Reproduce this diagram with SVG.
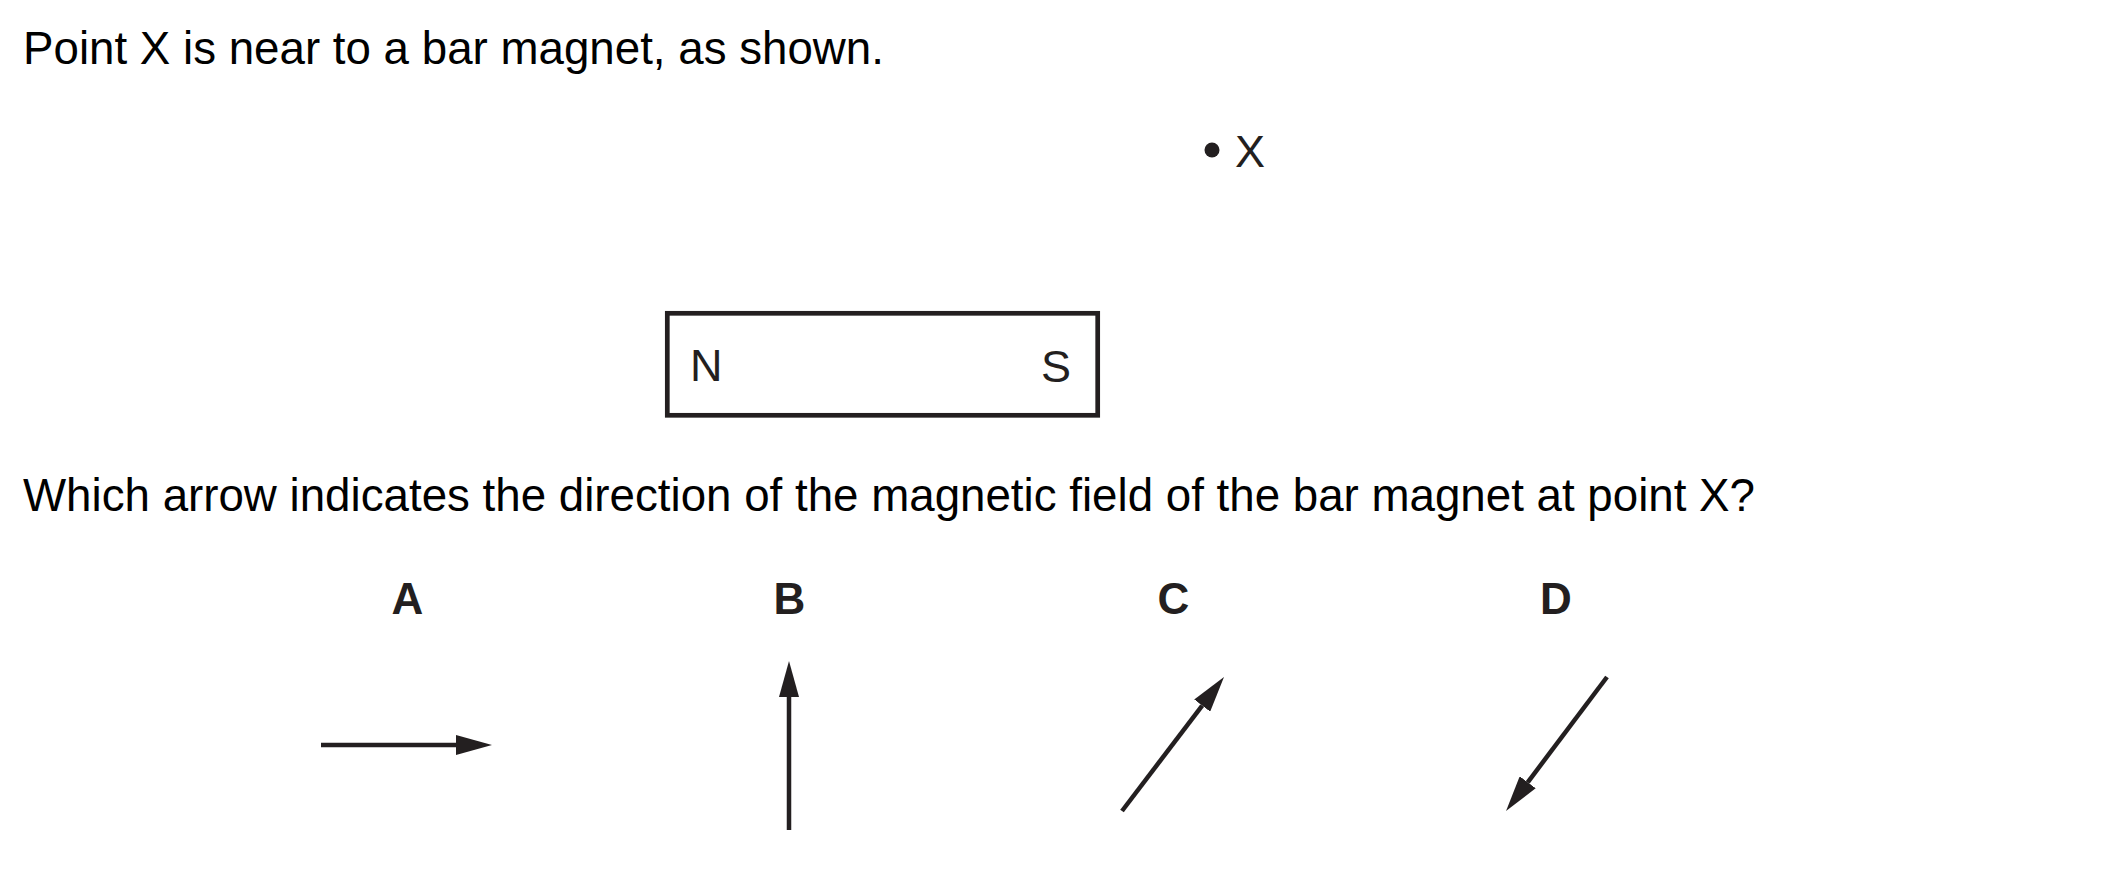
<svg xmlns="http://www.w3.org/2000/svg" width="2101" height="896" viewBox="0 0 2101 896">
  <style>
    .q { font-family: "Liberation Sans", Arial, sans-serif; font-size: 45.7px; fill: #000; }
    .t { font-family: "Liberation Sans", Arial, sans-serif; font-size: 45px; fill: #231f20; }
    .lbl { font-family: "Liberation Sans", Arial, sans-serif; font-size: 44px; font-weight: bold; fill: #231f20; text-anchor: middle; }
    .arr { stroke: #231f20; stroke-width: 4.5; fill: none; marker-end: url(#head); }
  </style>
  <defs>
    <marker id="head" viewBox="0 0 36 20" refX="0" refY="10" markerWidth="36" markerHeight="20" markerUnits="userSpaceOnUse" orient="auto">
      <path d="M0,0 L36,10 L0,20 Z" fill="#231f20"/>
    </marker>
  </defs>
  <rect width="2101" height="896" fill="#fff"/>
  <text class="q" x="23" y="63.5">Point X is near to a bar magnet, as shown.</text>
  <g id="pointX">
    <circle cx="1212" cy="150" r="7.5" fill="#231f20"/>
    <text class="t" x="1235" y="166.5">X</text>
  </g>
  <g id="magnet">
    <rect x="667.3" y="313.3" width="430.4" height="102" fill="none" stroke="#231f20" stroke-width="4.7"/>
    <text class="t" x="690" y="381">N</text>
    <text class="t" x="1041" y="381.5">S</text>
  </g>
  <text class="q" x="23" y="510.7">Which arrow indicates the direction of the magnetic field of the bar magnet at point X?</text>
  <g id="optA">
    <text class="lbl" x="407.5" y="614">A</text>
  </g>
  <g id="optB">
    <text class="lbl" x="789.5" y="614">B</text>
  </g>
  <g id="optC">
    <text class="lbl" x="1173.5" y="614">C</text>
  </g>
  <g id="optD">
    <text class="lbl" x="1556" y="614">D</text>
  </g>
  <g id="connectors">
    <line class="arr" x1="321" y1="745" x2="456" y2="745"/>
    <line class="arr" x1="789" y1="830" x2="789" y2="697"/>
    <line class="arr" x1="1122" y1="811" x2="1202.2" y2="705.6"/>
    <line class="arr" x1="1607" y1="677" x2="1527.7" y2="782.3"/>
  </g>
</svg>
